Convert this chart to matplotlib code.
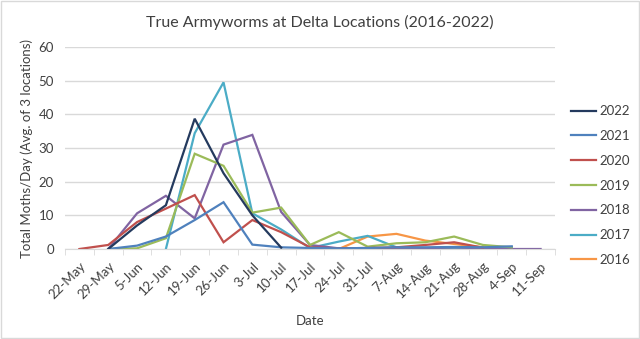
import numpy as np
import matplotlib
matplotlib.use("Agg")
import matplotlib.pyplot as plt
from matplotlib.patches import Rectangle
from matplotlib.transforms import ScaledTranslation

plt.rcParams['font.family'] = ['Lato', 'DejaVu Sans']

dates = ["22-May", "29-May", "5-Jun", "12-Jun", "19-Jun", "26-Jun", "3-Jul", "10-Jul",
         "17-Jul", "24-Jul", "31-Jul", "7-Aug", "14-Aug", "21-Aug", "28-Aug", "4-Sep", "11-Sep"]
nan = np.nan
y2022 = [nan, 0, 7, 13, 38.7, 22.5, 10, 0.4, nan, nan, nan, nan, nan, nan, nan, nan, nan]
y2021 = [nan, 0, 1, 3.7, 8.6, 13.9, 1.3, 0.5, 0.3, 0.2, 0.3, 0.5, 0.5, 0.6, 0.5, 0.8, nan]
y2020 = [0, 1.2, 8, 12, 16, 2, 8.6, 5, 0.5, 0.2, 0.3, 0.5, 1.2, 2.0, 0.4, nan, nan]
y2019 = [nan, 0, 0.2, 3.2, 28.3, 24.7, 10.8, 12.3, 1.2, 5, 0.7, 1.7, 2, 3.7, 1.2, 0.5, nan]
y2018 = [nan, 0, 10.6, 15.8, 9.1, 31, 33.9, 11, 1.2, 0.2, 0, 0, 0.2, 0.5, 0.2, 0, 0]
y2017 = [nan, nan, nan, 0, 34.4, 49.5, 10.6, 5.8, 0.3, 2.2, 3.9, 0.5, 0.3, 0.3, 0.3, 0.5, nan]
y2016 = [nan, nan, nan, nan, nan, nan, nan, nan, nan, 0, 3.7, 4.5, 2.5, 1.5, 0.5, 0.2, nan]

series = [("2022", y2022, "#243A5E"), ("2021", y2021, "#4F81BD"), ("2020", y2020, "#C0504D"),
          ("2019", y2019, "#9BBB59"), ("2018", y2018, "#8064A2"), ("2017", y2017, "#4BACC6"),
          ("2016", y2016, "#F79646")]

fig = plt.figure(figsize=(6.4, 3.39), dpi=100)
ax = fig.add_axes([65/640, 1-249/339, 490/640, (249-47)/339])
x = np.arange(len(dates))
handles = []
for name, vals, col in reversed(series):
    h, = ax.plot(x, vals, color=col, lw=1.6, label=name, solid_joinstyle='miter')
    handles.append(h)
handles = handles[::-1]

ax.set_xlim(-0.5, len(dates) - 0.5)
ax.set_ylim(0, 60)
ax.set_yticks(range(0, 61, 10))
ax.set_xticks(x)
ax.set_xticklabels(dates, rotation=45, ha='right', rotation_mode='anchor', fontsize=9.5, color='#404040')
off = ScaledTranslation(5/100, 0, fig.dpi_scale_trans)
for lab in ax.get_xticklabels():
    lab.set_transform(lab.get_transform() + off)
ax.set_xticks(np.arange(-0.5, len(dates), 1), minor=True)
ax.tick_params(axis='x', which='major', length=0, pad=8)
ax.tick_params(axis='x', which='minor', length=4, color='#d9d9d9')
ax.tick_params(axis='y', length=0, labelsize=9.5, labelcolor='#404040', pad=8)
ax.grid(axis='y', color='#d9d9d9', lw=1)
ax.set_axisbelow(True)
for s in ['top', 'right', 'left']:
    ax.spines[s].set_visible(False)
ax.spines['bottom'].set_color('#d9d9d9')

ax.set_xlabel("Date", fontsize=9.5, color='#404040', labelpad=10)
ax.set_ylabel("Total Moths/Day (Avg. of 3 locations)", fontsize=9.5, color='#404040', labelpad=4)
fig.text(0.5, 1-22/339, "True Armyworms at Delta Locations (2016-2022)", ha='center', va='center',
         fontsize=11.5, color='#404040')

leg = fig.legend(handles=handles, labels=[s[0] for s in series], loc='upper left',
                 bbox_to_anchor=(566/640, 1-100/339), frameon=False, fontsize=9.5,
                 handlelength=1.85, handletextpad=0.3, labelspacing=0.97, borderaxespad=0)
for t in leg.get_texts():
    t.set_color('#404040')

fig.patches.append(Rectangle((0.002, 0.003), 0.996, 0.994, transform=fig.transFigure,
                             fill=False, edgecolor='#d9d9d9', lw=1))
fig.savefig("out.png", dpi=100)
